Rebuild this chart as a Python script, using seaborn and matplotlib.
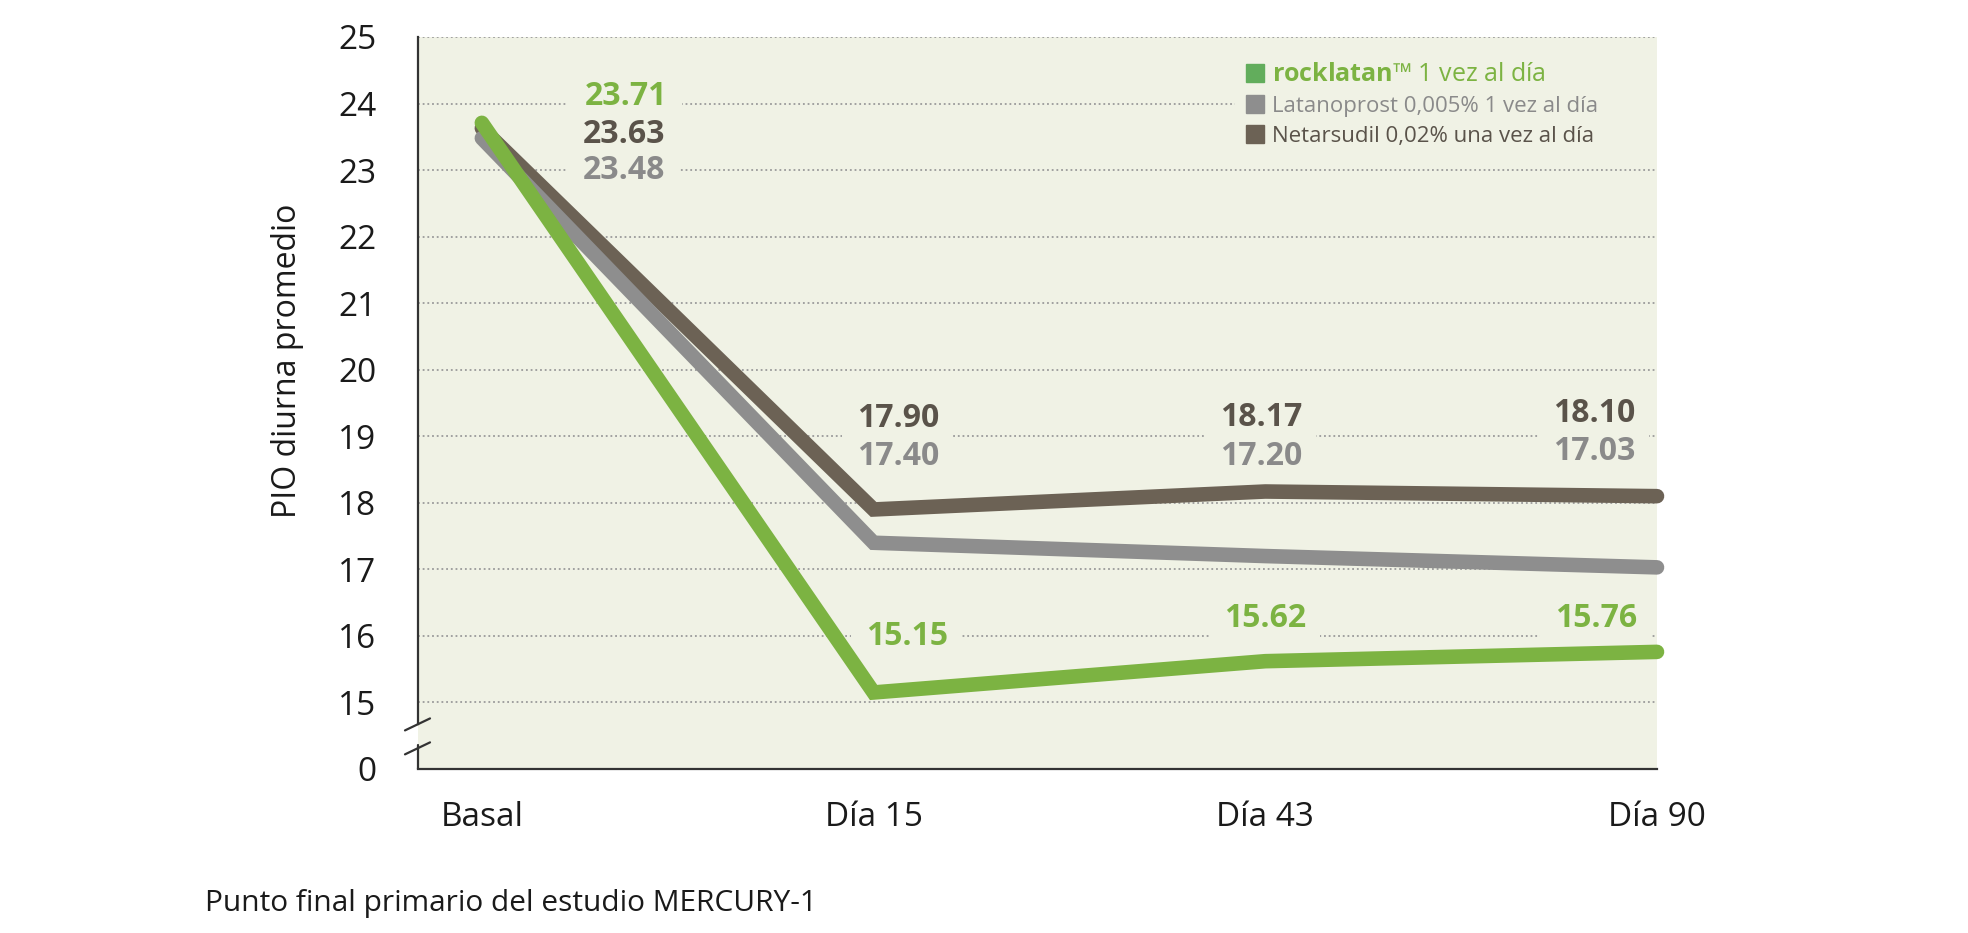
import numpy as np
import pandas as pd
import seaborn as sns
import matplotlib.pyplot as plt
from matplotlib.lines import Line2D

# datos (PIO diurna promedio, estudio MERCURY-1)
visitas = ['Basal', 'Día 15', 'Día 43', 'Día 90']
rocklatan = [23.71, 15.15, 15.62, 15.76]
latanoprost = [23.48, 17.40, 17.20, 17.03]
netarsudil = [23.63, 17.90, 18.17, 18.10]
series = ['rocklatan', 'Latanoprost', 'Netarsudil']
leyenda = [r'$\mathbf{rocklatan}$™ 1 vez al día',
           'Latanoprost 0,005% 1 vez al día',
           'Netarsudil 0,02% una vez al día']
ytick_labels = ['0', '15', '16', '17', '18', '19', '20', '21', '22', '23', '24', '25']

# posiciones de las etiquetas de valor (coordenadas de datos)
pos_rock = [(0.368, 24.10), (1.085, 15.99), (1.999, 16.26), (2.844, 16.26)]
pos_neta = [(0.363, 23.54), (1.062, 19.26), (1.989, 19.28), (2.839, 19.34)]
pos_lata = [(0.363, 22.99), (1.062, 18.69), (1.989, 18.69), (2.839, 18.77)]

verde = '#7cb342'
gris = '#8e8e8e'
marron = '#6c6255'
fondo = '#f0f2e5'

sns.set_style('white')
plt.rcParams['font.family'] = ['Open Sans', 'DejaVu Sans']
plt.rcParams['mathtext.fontset'] = 'custom'
plt.rcParams['mathtext.bf'] = 'Open Sans:bold'
plt.rcParams['mathtext.rm'] = 'Open Sans'

df = pd.DataFrame({
    'x': list(range(len(visitas))) * 3,
    'valor': rocklatan + latanoprost + netarsudil,
    'serie': [s for s in series for _ in visitas],
})

fig = plt.figure(figsize=(19.68, 9.33), dpi=100)
ax = fig.add_axes([418 / 1968, (933 - 769) / 933, 1239 / 1968, 732 / 933])
ax.set_facecolor(fondo)

sns.lineplot(data=df, x='x', y='valor', hue='serie',
             hue_order=['Netarsudil', 'Latanoprost', 'rocklatan'],
             palette={'rocklatan': verde, 'Latanoprost': gris, 'Netarsudil': marron},
             linewidth=10.5, legend=False, ax=ax, zorder=3)
for ln in ax.lines:
    ln.set_solid_capstyle('round')
    ln.set_solid_joinstyle('miter')
    ln.set_clip_on(False)

# ejes
ax.set_xlim(-0.163, 3.0)
ax.set_ylim(14, 25)
ax.set_xticks(range(len(visitas)))
ax.set_xticklabels(visitas)
ax.set_yticks([14] + list(range(15, 26)))
ax.set_yticklabels(ytick_labels)
ax.set_xlabel('')
ax.set_ylabel('PIO diurna promedio', fontsize=23, color='#1a1a1a')
ax.yaxis.set_label_coords(-0.092, 0.558)

ax.tick_params(axis='x', length=7, width=1.5, direction='out', pad=16,
               labelsize=24, colors='#1a1a1a')
ax.tick_params(axis='y', length=0, pad=30, labelsize=24, colors='#1a1a1a')

ax.set_axisbelow(True)
ax.yaxis.grid(True, color='#9a9a9a', linestyle=(0, (1, 1.6)), linewidth=1.3)
ax.xaxis.grid(False)
ax.yaxis.get_gridlines()[0].set_visible(False)

for s in ['top', 'right']:
    ax.spines[s].set_visible(False)
for s in ['left', 'bottom']:
    ax.spines[s].set_color('#333333')
    ax.spines[s].set_linewidth(1.6)
ax.spines['left'].set_bounds(14.67, 25)

# corte del eje
tr = ax.get_yaxis_transform()
ax.plot([0, 0], [14, 14.36], color='#333333', lw=1.6, transform=tr, clip_on=False)
ax.plot([-0.0105, 0.0097], [14.58, 14.76], color='#333333', lw=1.6, transform=tr, clip_on=False)
ax.plot([-0.0105, 0.0097], [14.22, 14.40], color='#333333', lw=1.6, transform=tr, clip_on=False)

# etiquetas de valor: primero los fondos, luego el texto
caja = dict(boxstyle='square,pad=0.45', facecolor=fondo, edgecolor='none')
grupos = [(rocklatan, pos_rock, verde),
          (netarsudil, pos_neta, '#5a534a'),
          (latanoprost, pos_lata, '#8a8a8a')]
for vals, pos, col in grupos:
    for v, (px, py) in zip(vals, pos):
        ax.text(px, py, f'{v:.2f}', color='none', fontsize=23, fontweight='bold',
                ha='center', va='center', bbox=caja, zorder=1.8)
        ax.text(px, py, f'{v:.2f}', color=col, fontsize=23, fontweight='bold',
                ha='center', va='center', zorder=2)

# leyenda
handles = [Line2D([], [], marker='s', linestyle='none', markersize=13, color=c)
           for c in ['#62ad5c', gris, marron]]
leg = ax.legend(handles, leyenda, loc='upper left',
                bbox_to_anchor=(0.659, 0.978, 0.341, 0), mode='expand',
                frameon=True, fontsize=16, handletextpad=0.3, labelspacing=0.4,
                borderpad=0.4, handlelength=1.0, borderaxespad=0)
leg.get_frame().set_facecolor(fondo)
leg.get_frame().set_edgecolor('none')
leg.get_frame().set_alpha(1)
txts = leg.get_texts()
txts[0].set_color(verde)
txts[0].set_fontsize(18)
txts[1].set_color('#8a8a8a')
txts[2].set_color('#5a534a')

fig.text(205 / 1968, (933 - 903) / 933, 'Punto final primario del estudio MERCURY-1',
         fontsize=21.5, color='#1a1a1a', va='center', ha='left')

fig.savefig('out.png', dpi=100, facecolor='white')
